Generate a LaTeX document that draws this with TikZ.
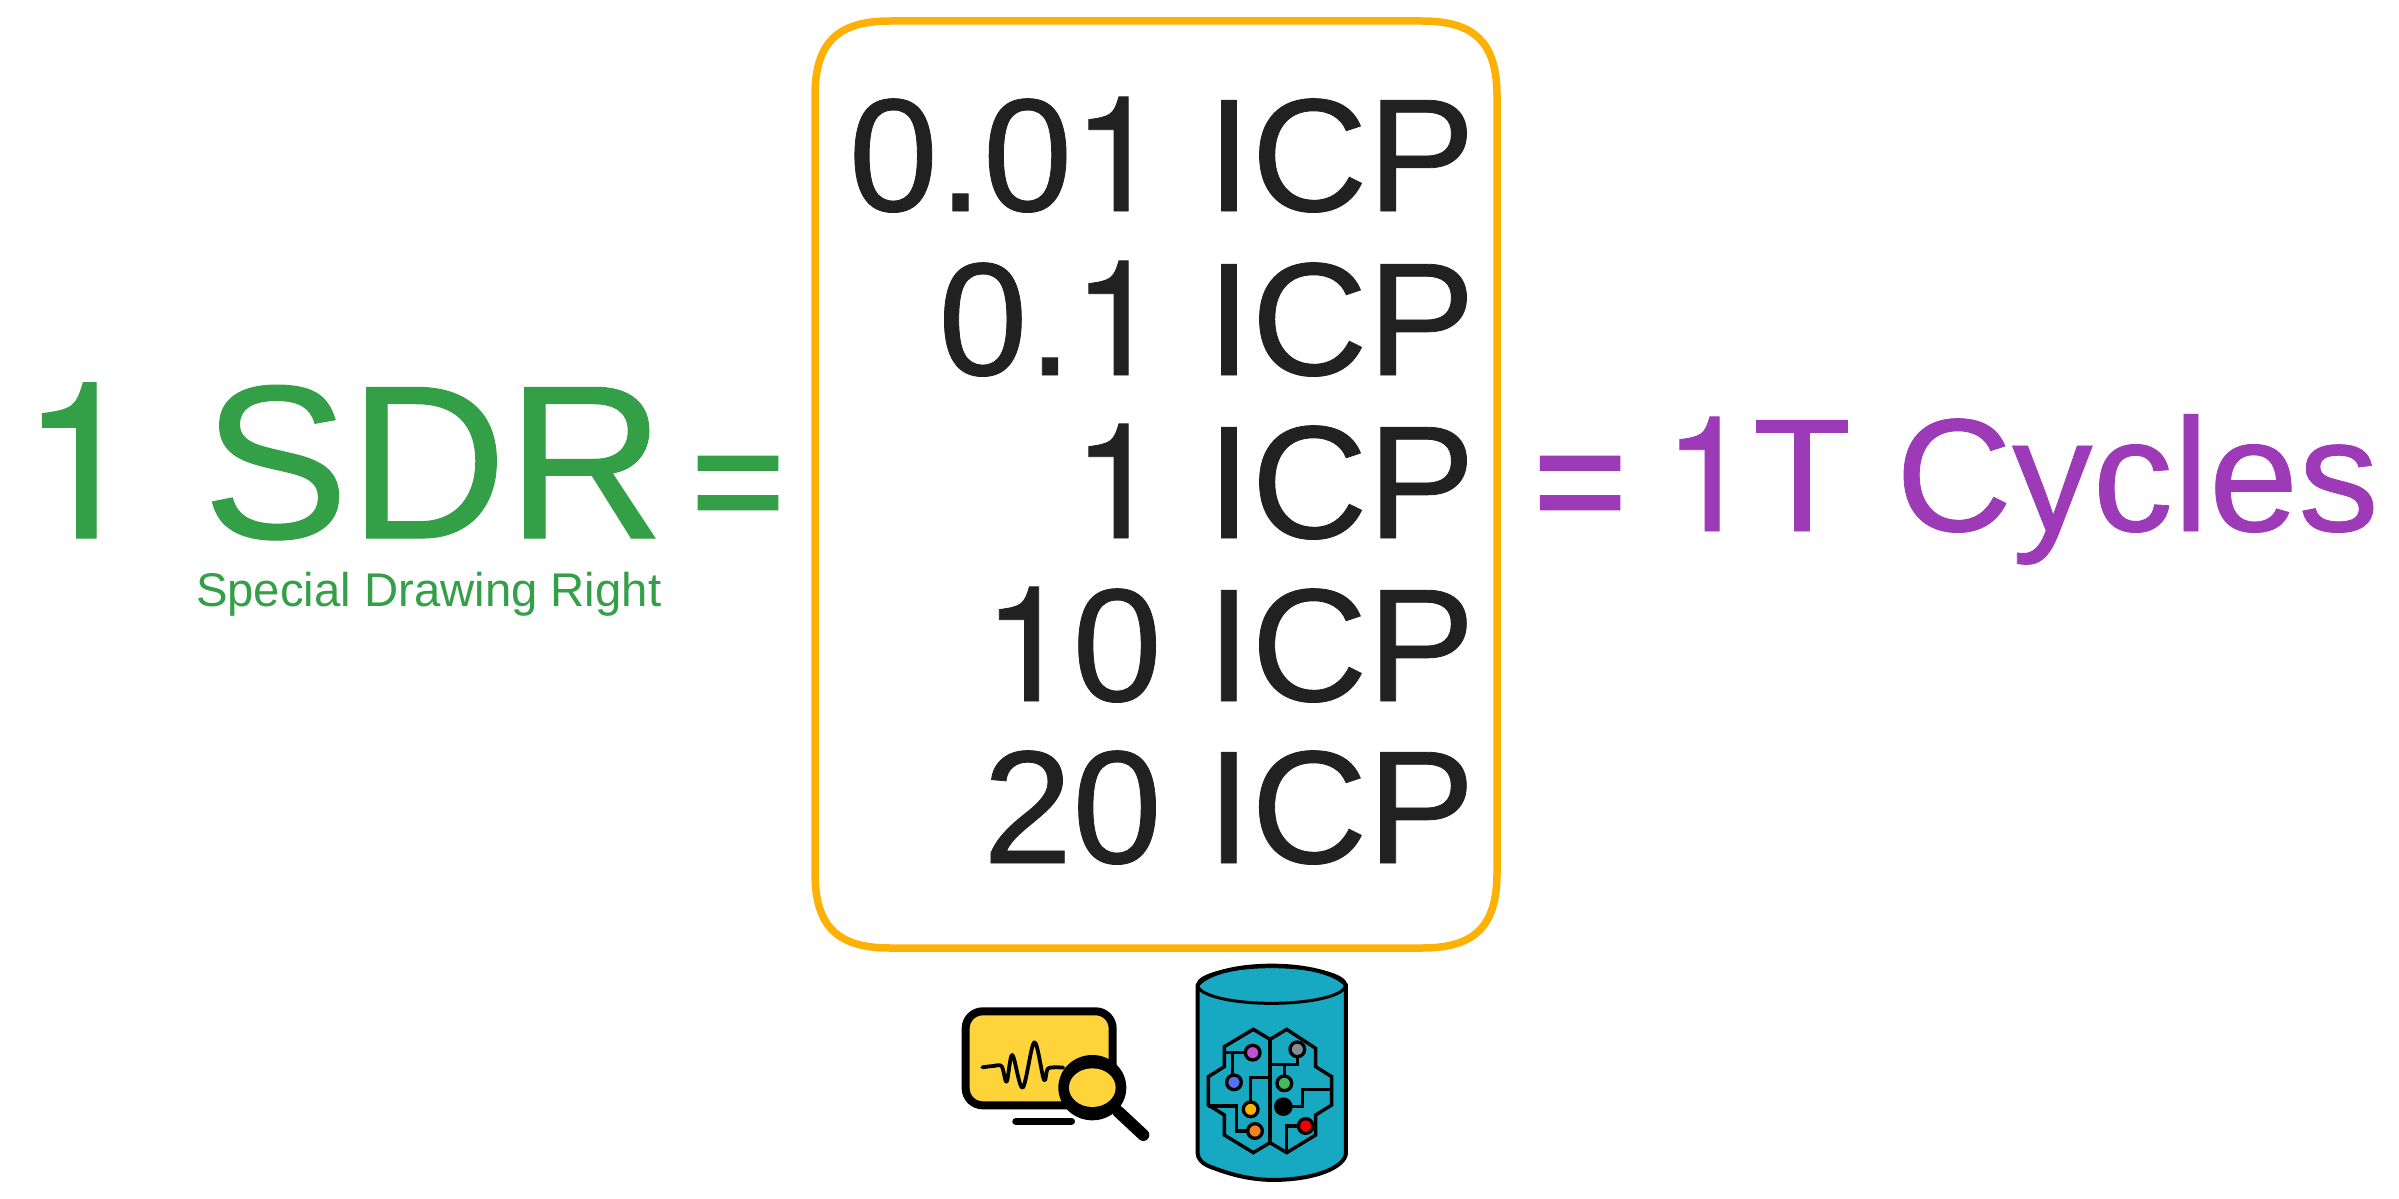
\documentclass[tikz,border=0pt]{standalone}
\usepackage{fontspec}
\setmainfont{Liberation Sans}
\newfontfamily\heavyfont{Liberation Sans}[FakeBold=0.5]
\newfontfamily\onefont{TeX Gyre Heros}[FakeBold=0.5]
\newcommand{\uno}{{\onefont 1}}
\definecolor{sdrgreen}{HTML}{339F47}
\definecolor{cycpurple}{HTML}{9C3AB8}
\definecolor{icpdark}{HTML}{212121}
\definecolor{boxamber}{HTML}{FDB104}
\definecolor{monyellow}{HTML}{FFD43B}
\definecolor{cylteal}{HTML}{17A9C1}
\tikzset{
  txt/.style={inner sep=0pt,outer sep=0pt},
  big/.style={txt,font=\heavyfont\fontsize{219}{219}\selectfont},
  mid/.style={txt,font=\heavyfont\fontsize{161}{161}\selectfont},
  icp/.style={mid,text=icpdark,anchor=base east},
  heavyeq/.style={txt,font=\fontsize{158}{158}\selectfont\addfontfeature{FakeBold=2.5}},
  chip/.style={draw=black,line width=3.3pt},
  wire/.style={draw=black,line width=3.4pt,line join=miter}
}
\begin{document}
\begin{tikzpicture}[x=1pt,y=-1pt]
\useasboundingbox (0,0) rectangle (2399,1199);
\fill[white] (0,0) rectangle (2399,1199);
% left
\node[big,text=sdrgreen,anchor=base west] (sdr) at (20,538) {\uno{} SDR};
\node[txt,font=\fontsize{47.3}{47.3}\selectfont,text=sdrgreen,anchor=base west] (sdrsub) at (196,606) {Special Drawing Right};
\node[heavyeq,text=sdrgreen,anchor=base west] (eqa) at (692,535) {=};
% box
\draw[boxamber,line width=7.5pt,line join=round] (815,96) .. controls (815,42) and (838,21) .. (890,21) -- (1422,21) .. controls (1474,21) and (1497,42) .. (1497,96) -- (1497,873) .. controls (1497,927) and (1474,948) .. (1422,948) -- (890,948) .. controls (838,948) and (815,927) .. (815,873) -- cycle;
\node[icp] (i1) at (1475,211) {0.0\uno{} ICP};
\node[icp] (i2) at (1475,375) {0.\uno{} ICP};
\node[icp] (i3) at (1475,538) {\uno{} ICP};
\node[icp] (i4) at (1475,701) {\uno{}0 ICP};
\node[icp] (i5) at (1475,863) {20 ICP};
% right
\node[heavyeq,text=cycpurple,anchor=base west] (eqb) at (1534,535) {=};
\node[mid,text=cycpurple,anchor=base east] (cyc) at (2379,531) {\uno{}T Cycles};
% monitor icon
\begin{scope}[shift={(930,950)},x=0.3333pt,y=-0.3333pt]
\draw[black,fill=monyellow,line width=8pt,rounded corners=17pt] (107,184) rectangle (548,466);
\draw[black,line width=7.5pt,line cap=round] (258,514) -- (424,514);
\draw[black,line width=3.8pt,line cap=round,line join=round] plot[smooth,tension=0.55] coordinates {(157,352) (190,348) (215,349) (230,395) (247,315) (278,413) (313,277) (342,390) (355,355) (400,353)};
\draw[black,line width=12pt,line cap=round] (565,485) -- (640,555);
\fill[black] (487,413) ellipse [x radius=102,y radius=98];
\fill[monyellow] (487,413) ellipse [x radius=70,y radius=58];
\end{scope}
% database icon
\begin{scope}[shift={(1170,950)},x=0.3333pt,y=-0.3333pt]
\draw[black,fill=cylteal,line width=4pt,line join=round]
  (83,105) .. controls (110,70) and (200,47) .. (305,47) .. controls (410,47) and (500,70) .. (528,105)
  -- (528,610) .. controls (525,650) and (440,690) .. (305,690) .. controls (220,688) and (160,665) .. (120,650) .. controls (95,640) and (83,625) .. (83,610) -- cycle;
\draw[black,line width=3pt] (305,105) ellipse [x radius=222,y radius=55];
\draw[wire] (300,268) -- (250,238) -- (163,290) -- (163,350) -- (115,380) -- (115,465) -- (163,495) -- (163,555) -- (250,608) -- (300,578) -- (350,608) -- (437,555) -- (437,495) -- (485,465) -- (485,380) -- (437,350) -- (437,295) -- (350,238) -- cycle;
\draw[wire] (300,268) -- (300,578);
\draw[wire] (163,308) -- (248,308);
\draw[wire] (188,308) -- (188,397);
\draw[wire] (382,298) -- (382,343) -- (300,343);
\draw[wire] (343,343) -- (343,400);
\draw[wire] (242,478) -- (242,382) -- (300,382);
\draw[wire] (115,468) -- (200,468) -- (200,543) -- (255,543);
\draw[wire] (340,470) -- (398,470) -- (398,418) -- (485,418);
\draw[wire] (407,528) -- (350,528) -- (350,608);
\draw[chip,fill={rgb,255:red,192;green,80;blue,216}] (248,308) circle (22);
\draw[chip,fill={rgb,255:red,85;green,112;blue,240}] (192,397) circle (22);
\draw[chip,fill={rgb,255:red,133;green,140;blue,150}] (382,298) circle (22);
\draw[chip,fill={rgb,255:red,69;green,184;blue,96}] (343,400) circle (22);
\draw[chip,fill={rgb,255:red,255;green,179;blue,0}] (242,478) circle (22);
\draw[chip,fill={rgb,255:red,245;green,130;blue,32}] (255,543) circle (22);
\draw[chip,fill={rgb,255:red,240;green,0;blue,0}] (407,528) circle (22);
\fill[black] (340,470) circle (28);
\end{scope}
\end{tikzpicture}
\end{document}
